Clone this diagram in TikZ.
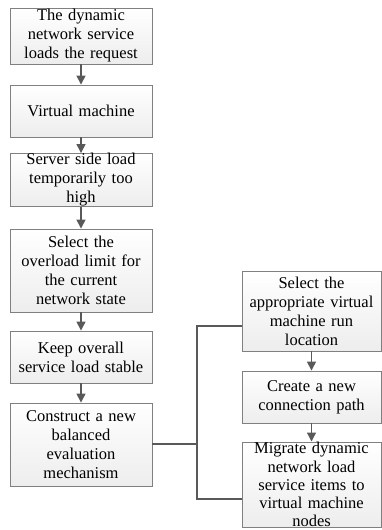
\documentclass[tikz,border=0pt]{standalone}
\usepackage{fontspec}
\setmainfont{Liberation Serif}
\usetikzlibrary{arrows.meta}
\definecolor{edgegray}{HTML}{808080}
\definecolor{linegray}{HTML}{595959}
\begin{document}
\begin{tikzpicture}[x=1pt,y=-1pt,
  box/.style={draw=edgegray, line width=0.9pt, top color=white, bottom color=gray!14,
    rectangle, align=center, inner xsep=1pt, inner ysep=0pt,
    font=\fontsize{16.5}{19}\selectfont},
  lbox/.style={box, minimum width=142pt, text width=140pt},
  rbox/.style={box, minimum width=137pt, text width=137pt},
  arr/.style={draw=linegray, line width=1.4pt, -{Triangle[width=9pt,length=9pt]}},
  conn/.style={draw=linegray, line width=1.4pt}
]
\useasboundingbox (0,0) rectangle (381,530);
\node[lbox, minimum height=56pt] (b1) at (81,36) {The dynamic\\network service\\loads the request};
\node[lbox, minimum height=52pt] (b2) at (81,111) {Virtual machine};
\node[lbox, minimum height=52pt] (b3) at (81,180) {Server side load\\temporarily too\\high};
\node[lbox, minimum height=83pt] (b4) at (81,270.5) {Select the\\overload limit for\\the current\\network state};
\node[lbox, minimum height=52pt] (b5) at (81,357) {Keep overall\\service load stable};
\node[lbox, minimum height=83pt] (b6) at (81,444.5) {Construct a new\\balanced\\evaluation\\mechanism};
\node[rbox, minimum height=80pt] (ra) at (311.5,311) {Select the\\appropriate virtual\\machine run\\location};
\node[rbox, minimum height=52pt] (rb) at (311.5,397) {Create a new\\connection path};
\node[rbox, anchor=north, inner ysep=0.5pt,
  font=\fontsize{16.5}{18.2}\selectfont] (rc) at (311.5,441.5) {Migrate dynamic\\network load\\service items to\\virtual machine\\nodes};
\draw[arr] (b1) -- (b2);
\draw[arr] (b2) -- (b3);
\draw[arr] (b3) -- (b4);
\draw[arr] (b4) -- (b5);
\draw[arr] (b5) -- (b6);
\draw[arr] (ra) -- (rb);
\draw[arr] (rb) -- (rc);
\coordinate (j) at (197,444);
\coordinate (ja) at (197,326);
\coordinate (jc) at (197,499);
\draw[conn] (b6.east |- j) -- (j);
\draw[conn] (ra.west |- ja) -- (ja) -- (jc) -- (rc.west |- jc);
\end{tikzpicture}
\end{document}
